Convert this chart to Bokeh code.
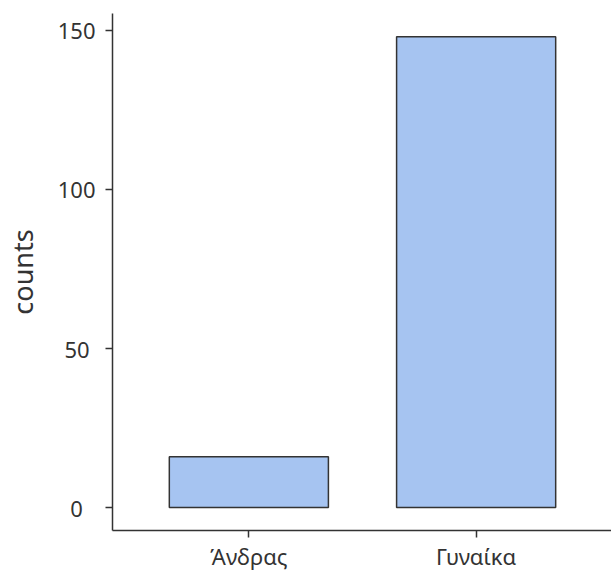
from bokeh.plotting import figure
from bokeh.models import FactorRange, Range1d, FixedTicker, ColumnDataSource
from bokeh.embed import file_html
from bokeh.resources import INLINE

categories = ["Άνδρας", "Γυναίκα"]
counts = [16, 148]
y_ticks = [0, 50, 100, 150]
y_tick_labels = ["0", "50", "100", "150"]

src = ColumnDataSource(dict(cat=categories, val=counts))

x_range = FactorRange(factors=categories, range_padding=0.1, range_padding_units="absolute")
p = figure(
    x_range=x_range,
    y_range=Range1d(-7.2, 155.3),
    frame_width=500, frame_height=517,
    output_backend="svg", toolbar_location=None,
    min_border_left=111, min_border_right=0, min_border_top=13, min_border_bottom=41,
)
p.vbar(x="cat", top="val", bottom=0, width=0.7, source=src,
       fill_color="#a6c4f1", line_color="#333333", line_width=1.5)

p.outline_line_color = None
p.xgrid.visible = False
p.ygrid.visible = False
p.background_fill_color = "white"
p.border_fill_color = "white"

font = "Noto Sans"
for ax in (p.xaxis[0], p.yaxis[0]):
    ax.axis_line_color = "#333333"
    ax.axis_line_width = 1.5
    ax.major_tick_line_color = "#333333"
    ax.major_tick_line_width = 1.5
    ax.major_tick_out = 7
    ax.major_tick_in = 0
    ax.minor_tick_line_color = None
    ax.major_label_text_font = font
    ax.major_label_text_font_size = "22px"
    ax.major_label_text_color = "#333333"

# the reference centres its y tick labels; emulate with trailing digit-width spaces
maxlen = max(len(t) for t in y_tick_labels)
def centred(t):
    d = maxlen - len(t)
    return t + "\u2007" * (d // 2) + ("\u2008" if d % 2 else "")

p.yaxis[0].ticker = FixedTicker(ticks=y_ticks)
p.yaxis[0].major_label_overrides = {v: centred(t) for v, t in zip(y_ticks, y_tick_labels)}
p.yaxis[0].major_label_standoff = 10
p.yaxis[0].axis_label = "counts"
p.yaxis[0].axis_label_text_font = font
p.yaxis[0].axis_label_text_font_size = "27px"
p.yaxis[0].axis_label_text_font_style = "normal"
p.yaxis[0].axis_label_text_color = "#333333"
p.yaxis[0].axis_label_standoff = 14
p.xaxis[0].major_label_standoff = 3

open("out.html", "w").write(file_html(p, INLINE))
